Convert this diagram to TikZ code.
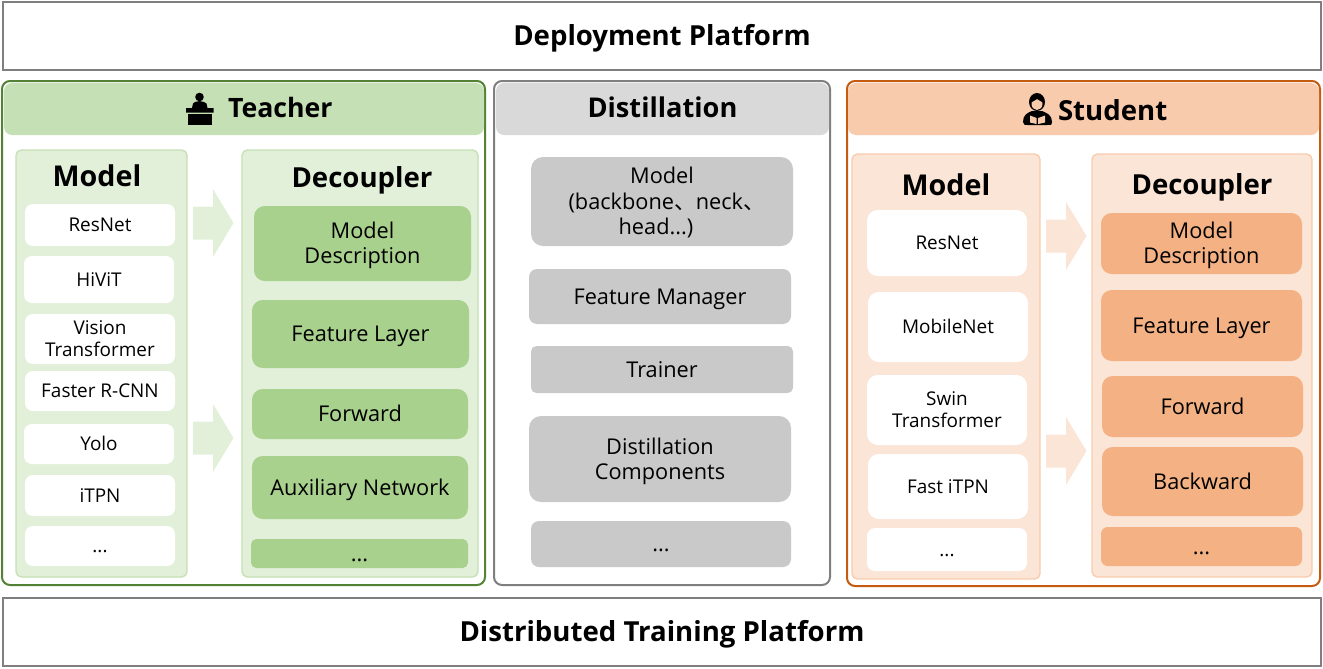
\documentclass[tikz,border=0pt]{standalone}
\usepackage{fontspec}
\setmainfont{Open Sans}
\newfontfamily\cjkf{Noto Sans CJK SC}
\usetikzlibrary{calc}
\definecolor{gborder}{HTML}{548235}
\definecolor{ghead}{HTML}{C5E0B4}
\definecolor{gpanel}{HTML}{E2F0D9}
\definecolor{gitem}{HTML}{A9D18E}
\definecolor{oborder}{HTML}{C55A11}
\definecolor{ohead}{HTML}{F8CBAD}
\definecolor{opanel}{HTML}{FBE5D6}
\definecolor{oitem}{HTML}{F4B183}
\definecolor{kborder}{HTML}{7F7F7F}
\definecolor{khead}{HTML}{D9D9D9}
\definecolor{kitem}{HTML}{C9C9C9}
\newcommand{\vsta}{\vrule width 0pt height 1em depth 0pt\relax}
\newcommand{\vstb}{\vrule width 0pt height 0pt depth .28em\relax}
\newcommand{\bx}[7][]{% style, name, x1,y1,x2,y2, text
  \node[#1, minimum width={(#5-#3)*0.75pt}, minimum height={(#6-#4)*0.75pt}] (#2) at ({(#3+#5)/2},{-(#4+#6)/2}) {\vsta #7\vstb};}
\newcommand{\blockarrow}[3]{% name, x, yc ; colour
  \coordinate (#1) at (#2,-#3);
  \fill[#1col] (#1) ++(0,16.5) -- ++(20,0) -- ++(0,17.5) -- ++(20.5,-34) -- ++(-20.5,-34) -- ++(0,17.5) -- ++(-20,0) -- cycle;}
\colorlet{ta1col}{gpanel}\colorlet{ta2col}{gpanel}\colorlet{sa1col}{opanel}\colorlet{sa2col}{opanel}
\tikzset{
  x=0.75pt,y=0.75pt,
  base/.style={inner sep=0pt,outer sep=0pt,align=center,font=\fontsize{16.3}{19}\selectfont,text=black},
  platform/.style={base,draw=kborder,line width=1.5pt,font=\fontsize{20.7}{24}\bfseries\selectfont},
  outer/.style={base,draw=#1,line width=1.5pt,rounded corners=6pt},
  headbar/.style={base,fill=#1,rounded corners=6pt},
  gpan/.style={base,fill=gpanel,draw=ghead,line width=1pt,rounded corners=4pt},
  opan/.style={base,fill=opanel,draw=ohead,line width=1pt,rounded corners=4pt},
  whitebox/.style={base,fill=white,rounded corners=6pt,font=\fontsize{14.2}{16.5}\selectfont},
  item/.style={base,fill=#1,rounded corners=8pt},
  paneltitle/.style={base,font=\fontsize{20.7}{24}\bfseries\selectfont},
  modeltitle/.style={base,font=\fontsize{21.5}{24}\bfseries\selectfont},
}
\begin{document}
\begin{tikzpicture}
\useasboundingbox (0,0) rectangle (1323,-668);
\bx[platform]{deploy}{3}{2}{1321}{70}{Deployment Platform}
\bx[platform]{train}{3}{598}{1321}{666}{Distributed Training Platform}

% Teacher
\bx[outer=gborder]{tout}{2}{81}{485}{585}{}
\bx[headbar=ghead]{thead}{4}{83}{484}{135}{}
\node[paneltitle,font=\fontsize{20}{24}\bfseries\selectfont,anchor=west] (ttitle) at (228,-108) {\vsta Teacher\vstb};
\bx[gpan]{tmodel}{16}{150}{187}{577}{}
\bx[gpan]{tdec}{242}{150}{478}{577}{}
\node[modeltitle] (tmt) at (97,-176) {\vsta Model\vstb};
\node[paneltitle] (tdt) at (362,-178) {\vsta Decoupler\vstb};
\bx[whitebox]{t1}{25}{204}{175}{246}{ResNet}
\bx[whitebox]{t2}{24}{256}{174}{303}{HiViT}
\bx[whitebox]{t3}{25}{314}{175}{364}{Vision\\Transformer}
\bx[whitebox]{t4}{25}{371}{175}{411}{Faster R-CNN}
\bx[whitebox]{t5}{24}{424}{174}{464}{Yolo}
\bx[whitebox]{t6}{25}{475}{175}{516}{iTPN}
\bx[whitebox]{t7}{25}{526}{175}{566}{...}
\bx[item=gitem]{d1}{254}{206}{471}{281}{Model\\Description}
\bx[item=gitem]{d2}{252}{300}{469}{368}{Feature Layer}
\bx[item=gitem]{d3}{252}{389}{468}{439}{Forward}
\bx[item=gitem]{d4}{252}{456}{468}{519}{Auxiliary Network}
\bx[item=gitem,rounded corners=4pt]{d5}{251}{539}{468}{568}{...}
\blockarrow{ta1}{193}{223}
\blockarrow{ta2}{193}{438}
% teacher icon
\fill[black] (199.5,-97) circle (4.3);
\fill[black] (186,-108) -- (186,-112.5) -- (213.5,-112.5) -- (213.5,-108) -- (207.5,-108) -- (206.5,-103.5) -- (204,-102) -- (199.5,-101) -- (195,-102) -- (193,-103.5) -- (192,-108) -- cycle;
\fill[black] (188,-113.5) rectangle (212,-124.5);

% Distillation
\bx[outer=kborder]{dout}{494}{81}{830}{585}{}
\bx[headbar=khead]{dhead}{496}{83}{829}{135}{}
\node[paneltitle,font=\fontsize{20.4}{24}\bfseries\selectfont] (dtitle) at (662.5,-108) {\vsta Distillation\vstb};
\bx[item=kitem,rounded corners=9pt]{k1}{531}{157}{793}{246}{Model\\\hspace*{7pt}(backbone{\cjkf 、}neck{\cjkf 、}\\head...)\hspace*{9pt}}
\bx[item=kitem,rounded corners=6pt]{k2}{529}{269}{791}{324}{Feature Manager}
\bx[item=kitem,rounded corners=4pt]{k3}{531}{346}{793}{393}{Trainer}
\bx[item=kitem,rounded corners=9pt]{k4}{529}{416}{791}{502}{Distillation\\Components}
\bx[item=kitem,rounded corners=6pt]{k5}{531}{521}{791}{567}{...}

% Student
\bx[outer=oborder]{sout}{847}{81}{1320}{586}{}
\bx[headbar=ohead]{shead}{848}{83}{1319}{135}{}
\node[paneltitle,anchor=west] (stitle) at (1058,-111) {\vsta Student\vstb};
\bx[opan]{smodel}{852}{154}{1040}{579}{}
\bx[opan]{sdec}{1092}{154}{1312}{577}{}
\node[modeltitle] (smt) at (946,-185) {\vsta Model\vstb};
\node[paneltitle] (sdt) at (1202,-185) {\vsta Decoupler\vstb};
\bx[whitebox,rounded corners=8pt]{s1}{867}{210}{1027}{276}{ResNet}
\bx[whitebox,rounded corners=8pt]{s2}{868}{292}{1028}{362}{MobileNet}
\bx[whitebox,rounded corners=8pt]{s3}{867}{375}{1027}{445}{Swin\\Transformer}
\bx[whitebox,rounded corners=8pt]{s4}{868}{454}{1028}{519}{Fast iTPN}
\bx[whitebox]{s5}{867}{528}{1027}{571}{...}
\bx[item=oitem]{e1}{1101}{213}{1302}{274}{Model\\Description}
\bx[item=oitem]{e2}{1101}{290}{1302}{361}{Feature Layer}
\bx[item=oitem]{e3}{1102}{376}{1303}{437}{Forward}
\bx[item=oitem]{e4}{1102}{447}{1303}{516}{Backward}
\bx[item=oitem,rounded corners=5pt]{e5}{1101}{527}{1302}{566}{...}
\blockarrow{sa1}{1046}{236}
\blockarrow{sa2}{1046}{451}
% student icon
\fill[black] (1037,-102) ellipse (8 and 9);
\fill[ohead] (1037,-104) ellipse (5.5 and 6);
\fill[black] (1032,-102) -- (1037,-99) -- (1042,-102) -- (1042,-95) -- (1032,-95) -- cycle;
\fill[black] (1023,-122) .. controls (1023,-115) and (1027,-113) .. (1032,-111) -- (1042,-111) .. controls (1047,-113) and (1052,-115) .. (1052,-122) .. controls (1052,-125) .. (1047,-125) -- (1028,-125) .. controls (1024,-125) .. (1023,-122) -- cycle;
\fill[ohead] (1030,-115.5) -- (1036.6,-118) -- (1036.6,-124) -- (1030,-122.5) -- cycle;
\fill[ohead] (1045,-115.5) -- (1038.2,-118) -- (1038.2,-124) -- (1045,-122.5) -- cycle;
\end{tikzpicture}
\end{document}
